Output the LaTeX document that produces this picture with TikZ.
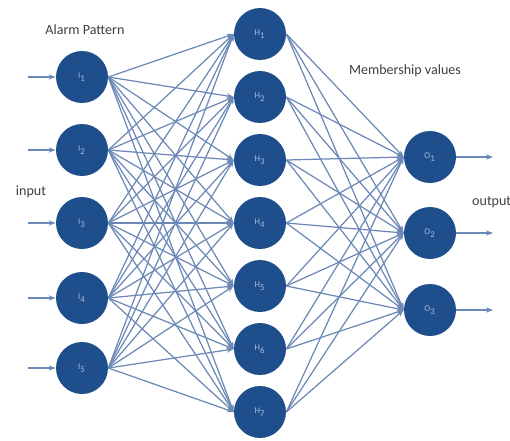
\documentclass[tikz,border=0pt]{standalone}
\usepackage{fontspec}
\setmainfont{Carlito}
\usetikzlibrary{arrows.meta}
\definecolor{nodeblue}{HTML}{1F4E8C}
\definecolor{edgeblue}{HTML}{6B88B6}
\definecolor{labelblue}{HTML}{A9BCDB}

\begin{document}
\begin{tikzpicture}[x=0.02cm, y=-0.02cm,
    neuron/.style={circle, fill=nodeblue, minimum size=1.04cm, inner sep=0pt,
                   text=labelblue, font=\tiny},
    link/.style={draw=edgeblue, line width=0.7pt, -{Stealth[length=4pt,width=3pt]}},
    caption/.style={font=\footnotesize, text=black!75}]
\useasboundingbox (0,0) rectangle (510,440);

% layers
\foreach \i/\y in {1/77,2/150,3/223,4/298,5/368}
  \node[neuron] (I\i) at (82,\y) {I\textsubscript{\i}};
\foreach \j/\y in {1/34,2/97,3/160,4/223,5/286,6/349,7/412}
  \node[neuron] (H\j) at (260,\y) {H\textsubscript{\j}};
\foreach \k/\y in {1/157,2/233,3/310}
  \node[neuron] (O\k) at (430,\y) {O\textsubscript{\k}};

% free ends of the outer arrows
\foreach \i/\y in {1/77,2/150,3/223,4/298,5/368}
  \coordinate (in\i) at (28,\y);
\foreach \k/\y in {1/157,2/233,3/310}
  \coordinate (out\k) at (493,\y);

% connections
\foreach \i in {1,...,5}
  \draw[link] (in\i) -- (I\i.west);
\foreach \i in {1,...,5}
  \foreach \j in {1,...,7}
    \draw[link] (I\i.east) -- (H\j.west);
\foreach \j in {1,...,7}
  \foreach \k in {1,2,3}
    \draw[link] (H\j.east) -- (O\k.west);
\foreach \k in {1,2,3}
  \draw[link] (O\k.east) -- (out\k);

% captions
\node[caption] (alarm) at (85,30) {Alarm Pattern};
\node[caption] (input) at (31,192) {input};
\node[caption] (member) at (405,71) {Membership values};
\node[caption, anchor=west] (output) at (466,202) {output};
\end{tikzpicture}
\end{document}
